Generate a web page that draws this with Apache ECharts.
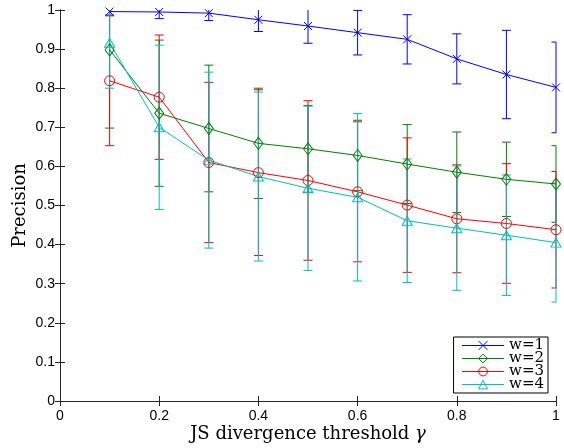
<!DOCTYPE html>
<html>
<head>
<meta charset="utf-8">
<script src="https://cdn.jsdelivr.net/npm/echarts@6/dist/echarts.min.js"></script>
<style>
html,body{margin:0;padding:0;background:#fff;}
#chart{width:564px;height:448px;}
</style>
</head>
<body>
<div id="chart"></div>
<script>
var thresholds = [0.1, 0.2, 0.3, 0.4, 0.5, 0.6, 0.7, 0.8, 0.9, 1.0];
var seriesNames = ['w=1', 'w=2', 'w=3', 'w=4'];
var w1 = [0.996, 0.995, 0.992, 0.975, 0.959, 0.942, 0.925, 0.875, 0.835, 0.802];
var w1err = [0.009, 0.017, 0.019, 0.030, 0.044, 0.057, 0.063, 0.064, 0.113, 0.116];
var w2 = [0.898, 0.736, 0.697, 0.659, 0.645, 0.628, 0.606, 0.585, 0.567, 0.555];
var w2err = [0.200, 0.187, 0.162, 0.141, 0.111, 0.090, 0.101, 0.103, 0.095, 0.098];
var w3 = [0.819, 0.777, 0.610, 0.584, 0.564, 0.535, 0.501, 0.466, 0.454, 0.438];
var w3err = [0.166, 0.159, 0.205, 0.212, 0.204, 0.179, 0.172, 0.138, 0.153, 0.149];
var w4 = [0.916, 0.700, 0.616, 0.574, 0.544, 0.521, 0.461, 0.442, 0.424, 0.405];
var w4err = [0.116, 0.210, 0.225, 0.216, 0.210, 0.214, 0.158, 0.159, 0.154, 0.152];
var xTicks = [0, 0.2, 0.4, 0.6, 0.8, 1];
var yTicks = [0, 0.1, 0.2, 0.3, 0.4, 0.5, 0.6, 0.7, 0.8, 0.9, 1];

var colors = ['#0000ff', '#008000', '#ff0000', '#00bfbf'];
var values = [w1, w2, w3, w4];
var errs = [w1err, w2err, w3err, w4err];
var symbols = ['path://M0,0L10,10M10,0L0,10', 'diamond', 'circle', 'triangle'];
var symbolSizes = [[8, 8], [9, 12], [10, 10], [10, 9]];

function errorBarRender(params, api) {
  var x = api.value(0), y = api.value(1), e = api.value(2);
  var cs = params.coordSys;
  var top = api.coord([x, y + e]);
  var bot = api.coord([x, y - e]);
  var c = api.visual('color');
  var half = 4.5;
  var children = [];
  var topY = top[1], topClipped = false;
  if (topY < cs.y) { topY = cs.y; topClipped = true; }
  var botY = bot[1], botClipped = false;
  if (botY > cs.y + cs.height) { botY = cs.y + cs.height; botClipped = true; }
  var style = {stroke: c, lineWidth: 1, fill: null};
  children.push({type: 'line', shape: {x1: top[0], y1: topY, x2: bot[0], y2: botY}, style: style});
  var right = cs.x + cs.width;
  function capX2(px) { return Math.min(px + half, right); }
  if (!topClipped) children.push({type: 'line', shape: {x1: top[0] - half, y1: top[1], x2: capX2(top[0]), y2: top[1]}, style: style});
  if (!botClipped) children.push({type: 'line', shape: {x1: bot[0] - half, y1: bot[1], x2: capX2(bot[0]), y2: bot[1]}, style: style});
  return {type: 'group', children: children};
}

var series = [];
for (var i = 0; i < 4; i++) {
  var ebData = [], lnData = [];
  for (var j = 0; j < thresholds.length; j++) {
    ebData.push([thresholds[j], values[i][j], errs[i][j]]);
    lnData.push([thresholds[j], values[i][j]]);
  }
  series.push({
    type: 'custom', name: seriesNames[i] + ' err', renderItem: errorBarRender,
    itemStyle: {color: colors[i]}, data: ebData, silent: true,
    encode: {x: 0, y: 1}, xAxisIndex: 0, yAxisIndex: 0
  });
  series.push({
    type: 'line', name: seriesNames[i], data: lnData, xAxisIndex: 0, yAxisIndex: 0,
    symbol: symbols[i], symbolSize: symbolSizes[i], showAllSymbol: true,
    lineStyle: {color: colors[i], width: 1},
    itemStyle: {color: 'rgba(0,0,0,0)', borderColor: colors[i], borderWidth: 1},
    color: colors[i], animation: false
  });
}

var axisLine = {show: true, lineStyle: {color: '#262626', width: 1}};
var tickFont = {fontFamily: "'Liberation Sans', Arial, sans-serif", fontSize: 14, color: '#000'};

var option = {
  animation: false,
  backgroundColor: '#fff',
  grid: {left: 60, right: 8, top: 10, bottom: 47, containLabel: false},
  legend: {
    data: seriesNames,
    orient: 'vertical', right: 16, bottom: 55,
    backgroundColor: '#fff', borderColor: '#000', borderWidth: 1,
    padding: [1, 4, 1, 8], itemGap: -2, itemWidth: 42, itemHeight: 11,
    lineStyle: {width: 1},
    itemStyle: {color: 'rgba(0,0,0,0)', borderWidth: 1},
    textStyle: {fontFamily: "'DejaVu Serif', serif", fontSize: 15, color: '#000'},
    selectedMode: false
  },
  xAxis: [{
    type: 'value', min: 0, max: 1, interval: 0.2, position: 'bottom',
    name: 'JS divergence threshold {g|γ}', nameLocation: 'middle', nameGap: 24,
    nameMoveOverlap: false,
    nameTextStyle: {fontFamily: "'DejaVu Serif', serif", fontSize: 18, color: '#000',
      rich: {g: {fontFamily: "'DejaVu Serif', serif", fontStyle: 'italic', fontSize: 18, color: '#000'}}},
    axisLine: axisLine, axisTick: {show: true, inside: true, length: 5, lineStyle: {color: '#262626'}},
    axisLabel: Object.assign({margin: 8, formatter: function (v) { return String(+v.toFixed(1)); }}, tickFont),
    splitLine: {show: false}
  }, {
    type: 'value', min: 0, max: 1, interval: 0.2, position: 'top',
    axisLine: axisLine, axisTick: {show: true, inside: true, length: 5, lineStyle: {color: '#262626'}},
    axisLabel: {show: false}, splitLine: {show: false}
  }],
  yAxis: [{
    type: 'value', min: 0, max: 1, interval: 0.1, position: 'left',
    name: 'Precision', nameLocation: 'middle', nameGap: 31,
    nameMoveOverlap: false,
    nameTextStyle: {fontFamily: "'DejaVu Serif', serif", fontSize: 18, color: '#000'},
    axisLine: axisLine, axisTick: {show: true, inside: true, length: 5, lineStyle: {color: '#262626'}},
    axisLabel: Object.assign({margin: 5, formatter: function (v) { return String(+v.toFixed(1)); }}, tickFont),
    splitLine: {show: false}
  }, {
    type: 'value', min: 0, max: 1, interval: 0.1, position: 'right',
    axisLine: axisLine, axisTick: {show: true, inside: true, length: 5, lineStyle: {color: '#262626'}},
    axisLabel: {show: false}, splitLine: {show: false}
  }],
  series: series
};

var chart = echarts.init(document.getElementById('chart'), null, {renderer: 'canvas'});
chart.setOption(option);
</script>
</body>
</html>
